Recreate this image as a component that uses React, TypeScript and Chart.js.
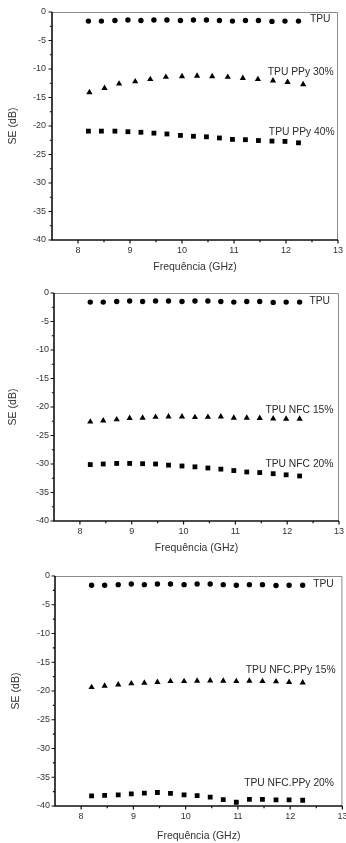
import React, { useEffect, useRef } from "react";
import { Chart, registerables } from "chart.js";

Chart.register(...registerables);

const FONT = '"Liberation Sans", Arial, Helvetica, sans-serif';

// ---- data ----
const freq = [8.2, 8.45, 8.71, 8.96, 9.21, 9.46, 9.71, 9.97, 10.22, 10.47, 10.72, 10.97, 11.22, 11.47, 11.73, 11.98, 12.24];
const freqPPy30 = [8.22, 8.51, 8.79, 9.1, 9.39, 9.69, 10.0, 10.29, 10.58, 10.88, 11.17, 11.46, 11.75, 12.03, 12.33];

const seTPU = [-1.6, -1.6, -1.5, -1.4, -1.5, -1.4, -1.4, -1.5, -1.4, -1.4, -1.5, -1.6, -1.5, -1.5, -1.65, -1.6, -1.6];
const sePPy30 = [-14.1, -13.35, -12.6, -12.2, -11.8, -11.4, -11.3, -11.2, -11.3, -11.4, -11.6, -11.8, -12.05, -12.3, -12.7];
const sePPy40 = [-20.9, -20.9, -20.9, -21.0, -21.1, -21.25, -21.4, -21.65, -21.8, -21.9, -22.1, -22.35, -22.4, -22.55, -22.65, -22.7, -22.95];

const seNFC15 = [-22.6, -22.4, -22.2, -21.95, -21.9, -21.75, -21.7, -21.7, -21.8, -21.75, -21.7, -21.9, -21.9, -21.95, -22.05, -22.1, -22.1];
const seNFC20 = [-30.1, -30.0, -29.9, -29.9, -29.95, -30.0, -30.2, -30.35, -30.5, -30.7, -30.9, -31.15, -31.4, -31.5, -31.7, -31.9, -32.1];

const seNFCPPy15 = [-19.35, -19.1, -18.9, -18.7, -18.6, -18.45, -18.3, -18.3, -18.25, -18.2, -18.25, -18.3, -18.25, -18.3, -18.35, -18.45, -18.55];
const seNFCPPy20 = [-38.25, -38.15, -38.05, -37.9, -37.75, -37.65, -37.8, -38.05, -38.2, -38.45, -38.9, -39.35, -38.85, -38.85, -38.95, -38.95, -39.0];

const xMajorTicks = [8, 9, 10, 11, 12, 13];
const xMinorTicks = [8.5, 9.5, 10.5, 11.5, 12.5];
const yMajorTicks = [0, -5, -10, -15, -20, -25, -30, -35, -40];
const yMinorTicks = [-2.5, -7.5, -12.5, -17.5, -22.5, -27.5, -32.5, -37.5];

const X_MIN = 7.5;
const X_MAX = 13;
const Y_MIN = -40;
const Y_MAX = 0;

const xTitle = "Frequência (GHz)";
const yTitle = "SE (dB)";

type Series = { label: string; x: number[]; y: number[]; style: "circle" | "triangle" | "rect" };
type Note = { text: string; x: number; y: number };
type Area = { left: number; right: number; top: number; bottom: number };

const radiusFor: Record<string, number> = { circle: 2.7, triangle: 3.6, rect: 3.4 };

function makeFramePlugin(notes: Note[]) {
  return {
    id: "frameAndNotes",
    afterDatasetsDraw(chart: any) {
      const { ctx, chartArea: a, scales } = chart;
      const xs = scales.x;
      const ys = scales.y;
      ctx.save();
      // gray top & right frame
      ctx.strokeStyle = "#8a8a8a";
      ctx.lineWidth = 1;
      ctx.beginPath();
      ctx.moveTo(a.left, a.top + 0.5);
      ctx.lineTo(a.right - 0.5, a.top + 0.5);
      ctx.lineTo(a.right - 0.5, a.bottom);
      ctx.stroke();
      // black left & bottom axes
      ctx.strokeStyle = "#111";
      ctx.lineWidth = 1.6;
      ctx.beginPath();
      ctx.moveTo(a.left, a.top);
      ctx.lineTo(a.left, a.bottom);
      ctx.lineTo(a.right, a.bottom);
      ctx.stroke();
      // ticks
      ctx.lineWidth = 1.2;
      ctx.beginPath();
      xMajorTicks.forEach((v) => {
        const p = xs.getPixelForValue(v);
        ctx.moveTo(p, a.bottom);
        ctx.lineTo(p, a.bottom + 3.5);
      });
      xMinorTicks.forEach((v) => {
        const p = xs.getPixelForValue(v);
        ctx.moveTo(p, a.bottom);
        ctx.lineTo(p, a.bottom + 2.2);
      });
      yMajorTicks.forEach((v) => {
        const p = ys.getPixelForValue(v);
        ctx.moveTo(a.left, p);
        ctx.lineTo(a.left - 3.5, p);
      });
      yMinorTicks.forEach((v) => {
        const p = ys.getPixelForValue(v);
        ctx.moveTo(a.left, p);
        ctx.lineTo(a.left - 2.2, p);
      });
      ctx.stroke();
      // notes
      ctx.fillStyle = "#2a2a2a";
      ctx.font = `10.3px ${FONT}`;
      ctx.textAlign = "left";
      ctx.textBaseline = "middle";
      notes.forEach((n) => {
        ctx.fillText(n.text, xs.getPixelForValue(n.x), ys.getPixelForValue(n.y));
      });
      ctx.restore();
    },
  };
}

function Panel(props: {
  top: number;
  height: number;
  area: Area;
  titleY: number;
  yTitleX: number;
  yLabelGap: number;
  series: Series[];
  notes: Note[];
}) {
  const ref = useRef<HTMLCanvasElement>(null);
  const { top, height, area, titleY, yTitleX, yLabelGap, series, notes } = props;

  useEffect(() => {
    const canvas = ref.current;
    if (!canvas) return;
    const titleSize = 10.5;
    const titleLH = titleSize * 1.2;
    const tickSize = 9;
    const chart = new Chart(canvas, {
      type: "scatter",
      data: {
        datasets: series.map((s) => ({
          label: s.label,
          data: s.x.map((x, i) => ({ x, y: s.y[i] })),
          pointStyle: s.style,
          pointRadius: radiusFor[s.style],
          pointHoverRadius: radiusFor[s.style],
          backgroundColor: "#000",
          borderColor: "#000",
          borderWidth: 0,
          showLine: false,
        })),
      },
      options: {
        animation: false,
        responsive: false,
        devicePixelRatio: 1,
        events: [],
        layout: {
          padding: { left: 0, top: area.top, right: 346 - area.right, bottom: 0 },
        },
        plugins: {
          legend: { display: false },
          tooltip: { enabled: false },
        },
        scales: {
          x: {
            type: "linear",
            min: X_MIN,
            max: X_MAX,
            grid: { display: false, drawTicks: false },
            border: { display: false },
            ticks: {
              stepSize: 0.5,
              autoSkip: false,
              maxRotation: 0,
              padding: 5.5,
              color: "#333",
              font: { family: FONT, size: tickSize },
              callback: (v: any) => (Number.isInteger(Number(v)) && xMajorTicks.includes(Number(v)) ? String(v) : ""),
            },
            title: {
              display: true,
              text: xTitle,
              color: "#333",
              font: { family: FONT, size: titleSize },
              padding: { top: 0, bottom: height - titleY - titleLH / 2 },
            },
            afterFit: (scale: any) => {
              scale.height = height - area.bottom;
              scale.paddingLeft = 0;
              scale.paddingRight = 0;
            },
          },
          y: {
            type: "linear",
            min: Y_MIN,
            max: Y_MAX,
            grid: { display: false, drawTicks: false },
            border: { display: false },
            ticks: {
              stepSize: 5,
              autoSkip: false,
              padding: yLabelGap,
              color: "#333",
              font: { family: FONT, size: tickSize },
              callback: (v: any) => String(v),
            },
            title: {
              display: true,
              text: yTitle,
              color: "#333",
              font: { family: FONT, size: titleSize },
              padding: { top: yTitleX - titleLH / 2, bottom: 0 },
            },
            afterFit: (scale: any) => {
              scale.width = area.left;
              scale.paddingTop = 0;
              scale.paddingBottom = 0;
            },
          },
        },
      },
      plugins: [makeFramePlugin(notes)],
    } as any);
    return () => chart.destroy();
  }, []);

  return (
    <canvas
      ref={ref}
      width={346}
      height={height}
      style={{ position: "absolute", left: 0, top, width: 346, height, display: "block" }}
    />
  );
}

export default function App() {
  return (
    <div style={{ position: "absolute", left: 0, top: 0, width: 346, height: 843, background: "#fff", overflow: "hidden" }}>
      <Panel
        top={0}
        height={282}
        area={{ left: 52, right: 338, top: 12, bottom: 240 }}
        titleY={266.7}
        yTitleX={13.3}
        yLabelGap={6}
        series={[
          { label: "TPU", x: freq, y: seTPU, style: "circle" },
          { label: "TPU PPy 30%", x: freqPPy30, y: sePPy30, style: "triangle" },
          { label: "TPU PPy 40%", x: freq, y: sePPy40, style: "rect" },
        ]}
        notes={[
          { text: "TPU", x: 12.46, y: -1.3 },
          { text: "TPU PPy 30%", x: 11.65, y: -10.5 },
          { text: "TPU PPy 40%", x: 11.67, y: -21.05 },
        ]}
      />
      <Panel
        top={282}
        height={282}
        area={{ left: 54, right: 339, top: 11, bottom: 239 }}
        titleY={266}
        yTitleX={13.3}
        yLabelGap={5}
        series={[
          { label: "TPU", x: freq, y: seTPU, style: "circle" },
          { label: "TPU NFC 15%", x: freq, y: seNFC15, style: "triangle" },
          { label: "TPU NFC 20%", x: freq, y: seNFC20, style: "rect" },
        ]}
        notes={[
          { text: "TPU", x: 12.43, y: -1.35 },
          { text: "TPU NFC 15%", x: 11.58, y: -20.5 },
          { text: "TPU NFC 20%", x: 11.58, y: -30.0 },
        ]}
      />
      <Panel
        top={564}
        height={279}
        area={{ left: 55, right: 344, top: 12, bottom: 242 }}
        titleY={272.5}
        yTitleX={16}
        yLabelGap={5}
        series={[
          { label: "TPU", x: freq, y: seTPU, style: "circle" },
          { label: "TPU NFC.PPy 15%", x: freq, y: seNFCPPy15, style: "triangle" },
          { label: "TPU NFC.PPy 20%", x: freq, y: seNFCPPy20, style: "rect" },
        ]}
        notes={[
          { text: "TPU", x: 12.44, y: -1.45 },
          { text: "TPU NFC.PPy 15%", x: 11.15, y: -16.3 },
          { text: "TPU NFC.PPy 20%", x: 11.12, y: -36.1 },
        ]}
      />
    </div>
  );
}
